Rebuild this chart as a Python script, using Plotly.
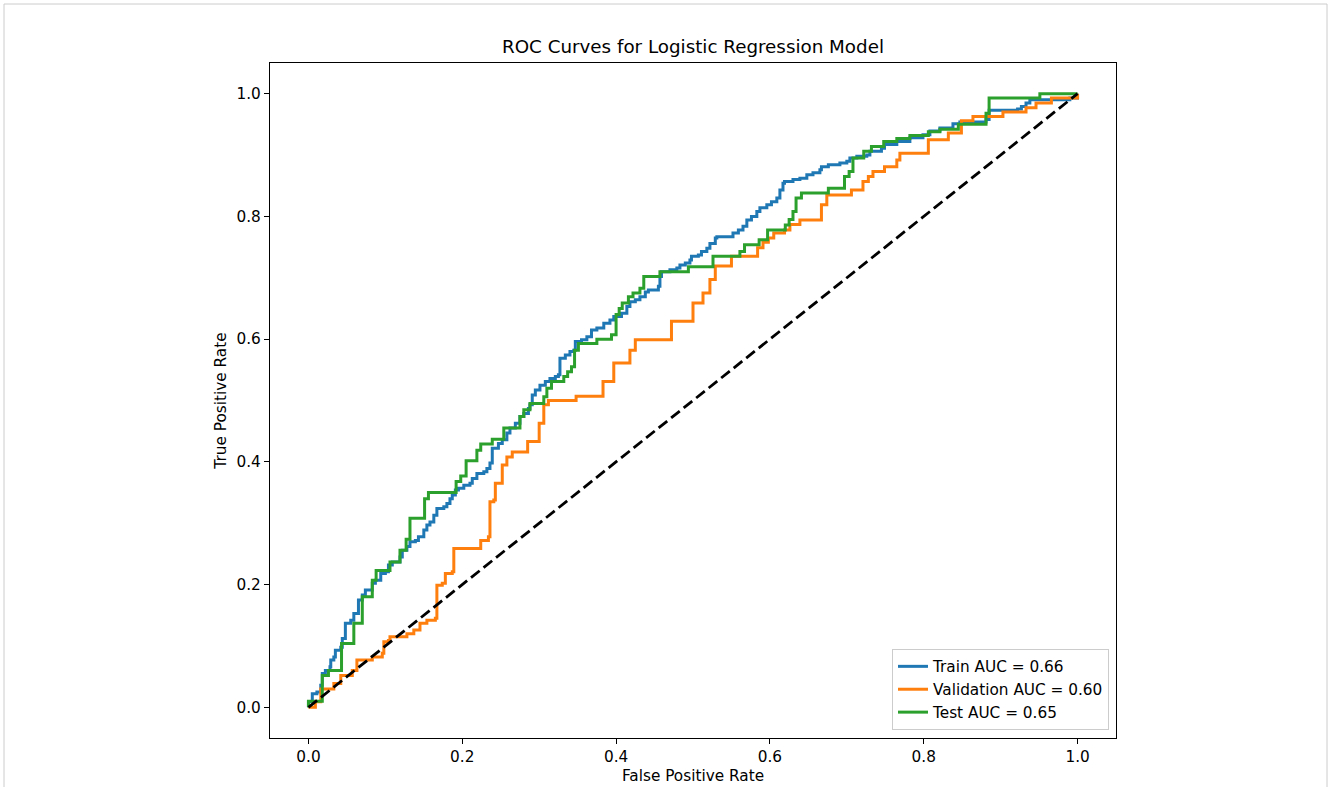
import plotly.graph_objects as go

# ---------------- data ----------------
train_fpr = [0.0, 0.0, 0.005, 0.011, 0.016, 0.018, 0.022, 0.028, 0.029, 0.033, 0.035, 0.042, 0.044, 0.048,
             0.055, 0.059, 0.065, 0.070, 0.074, 0.083, 0.087, 0.094, 0.100, 0.104, 0.109, 0.119, 0.122, 0.128,
             0.132, 0.139, 0.143, 0.150, 0.154, 0.158, 0.163, 0.167, 0.176, 0.180, 0.184, 0.187, 0.191, 0.195,
             0.202, 0.210, 0.213, 0.219, 0.228, 0.232, 0.236, 0.239, 0.247, 0.252, 0.258, 0.262, 0.269, 0.275,
             0.280, 0.286, 0.288, 0.291, 0.295, 0.301, 0.308, 0.314, 0.321, 0.325, 0.327, 0.334, 0.340, 0.345,
             0.347, 0.355, 0.362, 0.368, 0.375, 0.384, 0.392, 0.397, 0.407, 0.414, 0.418, 0.425, 0.431, 0.438,
             0.442, 0.455, 0.457, 0.459, 0.470, 0.479, 0.483, 0.490, 0.496, 0.498, 0.507, 0.511, 0.518, 0.522,
             0.529, 0.531, 0.552, 0.559, 0.565, 0.570, 0.576, 0.583, 0.587, 0.596, 0.602, 0.609, 0.613, 0.617,
             0.619, 0.630, 0.639, 0.648, 0.656, 0.665, 0.667, 0.676, 0.691, 0.700, 0.704, 0.713, 0.726, 0.730,
             0.745, 0.749, 0.765, 0.782, 0.799, 0.808, 0.821, 0.838, 0.847, 0.881, 0.885, 0.922, 0.927, 0.933,
             0.938, 0.990, 1.0]
train_tpr = [0.0, 0.009, 0.022, 0.025, 0.036, 0.055, 0.060, 0.066, 0.077, 0.082, 0.093, 0.098, 0.112, 0.137,
             0.142, 0.153, 0.175, 0.183, 0.191, 0.202, 0.207, 0.218, 0.221, 0.232, 0.237, 0.245, 0.256, 0.262,
             0.270, 0.272, 0.278, 0.289, 0.297, 0.302, 0.313, 0.324, 0.327, 0.332, 0.340, 0.346, 0.354, 0.357,
             0.362, 0.365, 0.373, 0.381, 0.384, 0.389, 0.398, 0.422, 0.430, 0.436, 0.447, 0.455, 0.463, 0.474,
             0.479, 0.487, 0.493, 0.509, 0.517, 0.525, 0.531, 0.536, 0.539, 0.542, 0.569, 0.574, 0.580, 0.582,
             0.596, 0.599, 0.604, 0.615, 0.618, 0.626, 0.631, 0.637, 0.642, 0.653, 0.661, 0.664, 0.669, 0.677,
             0.680, 0.686, 0.702, 0.710, 0.713, 0.716, 0.721, 0.724, 0.729, 0.735, 0.737, 0.743, 0.748, 0.756,
             0.765, 0.767, 0.773, 0.778, 0.784, 0.794, 0.800, 0.808, 0.814, 0.819, 0.824, 0.830, 0.843, 0.854,
             0.857, 0.860, 0.862, 0.868, 0.871, 0.876, 0.881, 0.884, 0.887, 0.890, 0.895, 0.898, 0.900, 0.906,
             0.911, 0.917, 0.922, 0.928, 0.933, 0.939, 0.944, 0.951, 0.954, 0.958, 0.973, 0.975, 0.979, 0.985,
             0.990, 0.993, 1.0]

val_fpr = [0.0, 0.009, 0.016, 0.033, 0.042, 0.057, 0.063, 0.083, 0.096, 0.098, 0.104, 0.106, 0.128, 0.137,
           0.145, 0.154, 0.165, 0.167, 0.174, 0.178, 0.187, 0.189, 0.224, 0.234, 0.236, 0.241, 0.243, 0.252,
           0.258, 0.265, 0.285, 0.300, 0.306, 0.312, 0.348, 0.383, 0.397, 0.418, 0.425, 0.472, 0.500, 0.513,
           0.522, 0.529, 0.550, 0.584, 0.591, 0.598, 0.605, 0.619, 0.626, 0.639, 0.667, 0.674, 0.706, 0.721,
           0.728, 0.734, 0.749, 0.765, 0.769, 0.806, 0.832, 0.849, 0.864, 0.903, 0.933, 0.946, 0.966, 1.0]
val_tpr = [0.0, 0.009, 0.030, 0.039, 0.052, 0.060, 0.077, 0.082, 0.088, 0.107, 0.109, 0.115, 0.120, 0.126,
           0.137, 0.142, 0.145, 0.199, 0.202, 0.218, 0.221, 0.259, 0.272, 0.278, 0.335, 0.338, 0.365, 0.395,
           0.408, 0.416, 0.433, 0.463, 0.493, 0.500, 0.507, 0.531, 0.561, 0.582, 0.599, 0.629, 0.659, 0.675,
           0.697, 0.719, 0.735, 0.749, 0.758, 0.765, 0.773, 0.778, 0.787, 0.794, 0.819, 0.835, 0.843, 0.857,
           0.865, 0.873, 0.881, 0.892, 0.903, 0.925, 0.936, 0.956, 0.963, 0.970, 0.977, 0.985, 0.993, 1.0]

test_fpr = [0.0, 0.0, 0.018, 0.026, 0.043, 0.059, 0.070, 0.083, 0.088, 0.106, 0.119, 0.127, 0.132, 0.151,
            0.156, 0.192, 0.198, 0.205, 0.219, 0.224, 0.239, 0.254, 0.275, 0.280, 0.288, 0.306, 0.310, 0.316,
            0.332, 0.337, 0.342, 0.346, 0.351, 0.375, 0.394, 0.400, 0.404, 0.408, 0.416, 0.422, 0.431, 0.436,
            0.457, 0.494, 0.526, 0.561, 0.567, 0.586, 0.597, 0.620, 0.625, 0.630, 0.634, 0.641, 0.676, 0.697,
            0.703, 0.708, 0.722, 0.732, 0.748, 0.765, 0.782, 0.806, 0.821, 0.845, 0.881, 0.885, 0.951, 1.0]
test_tpr = [0.0, 0.010, 0.052, 0.060, 0.104, 0.137, 0.180, 0.207, 0.223, 0.237, 0.256, 0.274, 0.308, 0.340,
            0.350, 0.368, 0.377, 0.402, 0.419, 0.429, 0.437, 0.455, 0.474, 0.485, 0.495, 0.506, 0.520, 0.531,
            0.539, 0.547, 0.555, 0.582, 0.593, 0.600, 0.607, 0.640, 0.650, 0.659, 0.669, 0.675, 0.683, 0.702,
            0.710, 0.718, 0.735, 0.743, 0.754, 0.762, 0.778, 0.786, 0.795, 0.808, 0.830, 0.838, 0.846, 0.865,
            0.873, 0.895, 0.906, 0.914, 0.922, 0.927, 0.932, 0.938, 0.942, 0.950, 0.968, 0.993, 1.0, 1.0]

diag = [0.0, 1.0]

series_names = ["Train AUC = 0.66", "Validation AUC = 0.60", "Test AUC = 0.65"]
tick_vals = [0.0, 0.2, 0.4, 0.6, 0.8, 1.0]
tick_text = ["0.0", "0.2", "0.4", "0.6", "0.8", "1.0"]

# ---------------- figure ----------------
FONT = "DejaVu Sans, Liberation Sans, sans-serif"
fig = go.Figure()

for xs, ys, name, color in [
    (train_fpr, train_tpr, series_names[0], "#1f77b4"),
    (val_fpr, val_tpr, series_names[1], "#ff7f0e"),
    (test_fpr, test_tpr, series_names[2], "#2ca02c"),
]:
    fig.add_trace(go.Scatter(x=xs, y=ys, mode="lines", name=name,
                             line=dict(color=color, width=3, shape="hv")))

fig.add_trace(go.Scatter(x=diag, y=diag, mode="lines", showlegend=False,
                         line=dict(color="black", width=2.8, dash="11px,5px")))

axis_common = dict(
    range=[-0.05, 1.05], tickvals=tick_vals, ticktext=tick_text,
    showgrid=False, zeroline=False, showline=True, mirror=True,
    linecolor="black", linewidth=1.2, ticks="outside", ticklen=5,
    tickwidth=1.2, tickcolor="black", tickfont=dict(size=15.3, color="black"),
    automargin=False,
)

fig.update_layout(
    width=1328, height=787,
    margin=dict(l=270, r=212, t=63, b=49),
    paper_bgcolor="white", plot_bgcolor="white",
    font=dict(family=FONT, size=15.3, color="black"),
    title=dict(text="ROC Curves for Logistic Regression Model", x=0.5, xanchor="center",
               xref="paper", y=1 - 47 / 787, yref="container", yanchor="middle",
               font=dict(size=18.3, color="black")),
    xaxis=dict(**axis_common, title=dict(text="False Positive Rate", standoff=4,
                                         font=dict(size=15.3))),
    yaxis=dict(**axis_common, title=dict(text="True Positive Rate", standoff=6,
                                         font=dict(size=15.3))),
    legend=dict(x=0.9917, y=0.012, xanchor="right", yanchor="bottom",
                bgcolor="rgba(255,255,255,0.8)", bordercolor="#cccccc", borderwidth=1,
                font=dict(size=15.3), tracegroupgap=0, itemwidth=30),
    showlegend=True,
)

# light grey frame around the figure
fig.add_shape(type="rect", xref="paper", yref="paper",
              x0=(4 - 270) / 846, x1=(1327 - 270) / 846,
              y0=(738 - 800) / 675, y1=(738 - 4) / 675,
              line=dict(color="#cccccc", width=1), fillcolor="rgba(0,0,0,0)", layer="below")

fig.write_html("out.html", config={"displayModeBar": False},
               post_script="document.body.style.margin='0px';")
